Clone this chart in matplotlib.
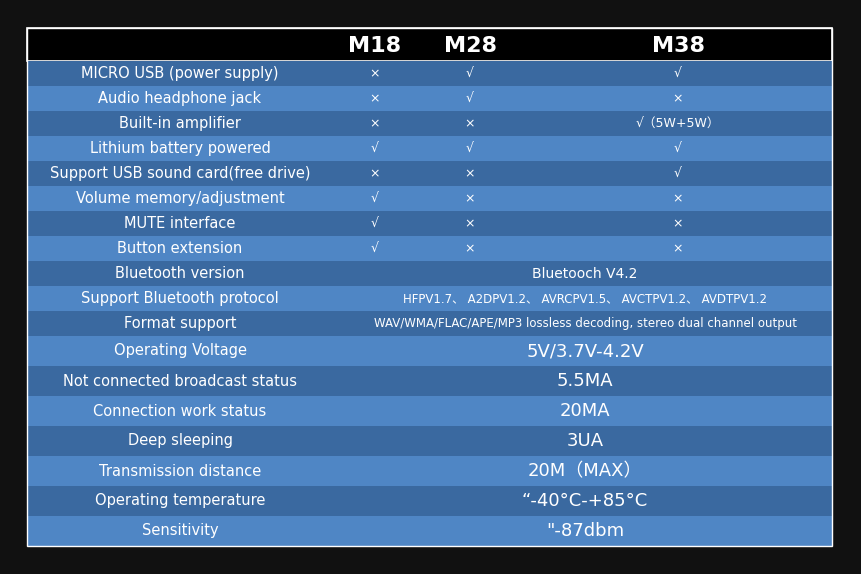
import matplotlib
matplotlib.use("Agg")
import matplotlib.pyplot as plt
import numpy as np

plt.rcParams['font.family'] = ['DejaVu Sans', 'Noto Sans CJK SC']

models = ["M18", "M28", "M38"]
features = ["MICRO USB (power supply)", "Audio headphone jack", "Built-in amplifier",
            "Lithium battery powered", "Support USB sound card(free drive)",
            "Volume memory/adjustment", "MUTE interface", "Button extension"]
m18 = ["×", "×", "×", "√", "×", "√", "√", "√"]
m28 = ["√", "√", "×", "√", "×", "×", "×", "×"]
m38 = ["√", "×", "√（5W+5W）", "√", "√", "×", "×", "×"]
spec_names = ["Bluetooth version", "Support Bluetooth protocol", "Format support",
              "Operating Voltage", "Not connected broadcast status", "Connection work status",
              "Deep sleeping", "Transmission distance", "Operating temperature", "Sensitivity"]
spec_values = ["Bluetooch V4.2", "HFPV1.7、 A2DPV1.2、 AVRCPV1.5、 AVCTPV1.2、 AVDTPV1.2",
               "WAV/WMA/FLAC/APE/MP3 lossless decoding, stereo dual channel output",
               "5V/3.7V-4.2V", "5.5MA", "20MA", "3UA", "20M（MAX）", "“-40°C-+85°C", "\"-87dbm"]

W, H = 861, 574
fig = plt.figure(figsize=(W/100, H/100), dpi=100, facecolor="#111111")
ax = fig.add_axes([0, 0, 1, 1])
ax.set_xlim(0, W); ax.set_ylim(H, 0); ax.axis("off")

x0, x1 = 27, 832
top, hh = 28, 33
heights = [25]*(len(features)+3) + [30]*(len(spec_names)-3)
dark, light = "#3a69a0", "#4f86c5"
ax.add_patch(plt.Rectangle((x0, top), x1-x0, hh, facecolor="black", edgecolor="white", lw=1.2))
cx = [375, 470, 678]
for m, c in zip(models, cx):
    ax.text(c, top+hh/2+1, m, color="white", fontsize=16, fontweight="bold", ha="center", va="center")

y = top + hh
labels = features + spec_names
for i, h in enumerate(heights):
    ax.barh(y + h/2, x1-x0, height=h, left=x0, color=dark if i % 2 == 0 else light, edgecolor="none")
    ax.text(180, y+h/2, labels[i], color="white", fontsize=10.5, ha="center", va="center")
    if i < len(features):
        for vals, c in zip((m18, m28, m38), cx):
            ax.text(c, y+h/2, vals[i], color="white", fontsize=9, ha="center", va="center")
    else:
        j = i - len(features)
        fs = 10 if j == 0 else (8.5 if j < 3 else 13)
        ax.text(585, y+h/2, spec_values[j], color="white", fontsize=fs, ha="center", va="center")
    y += h
ax.add_patch(plt.Rectangle((x0, top), x1-x0, y-top, facecolor="none", edgecolor="white", lw=1))
fig.savefig("out.png", dpi=100, facecolor=fig.get_facecolor())
